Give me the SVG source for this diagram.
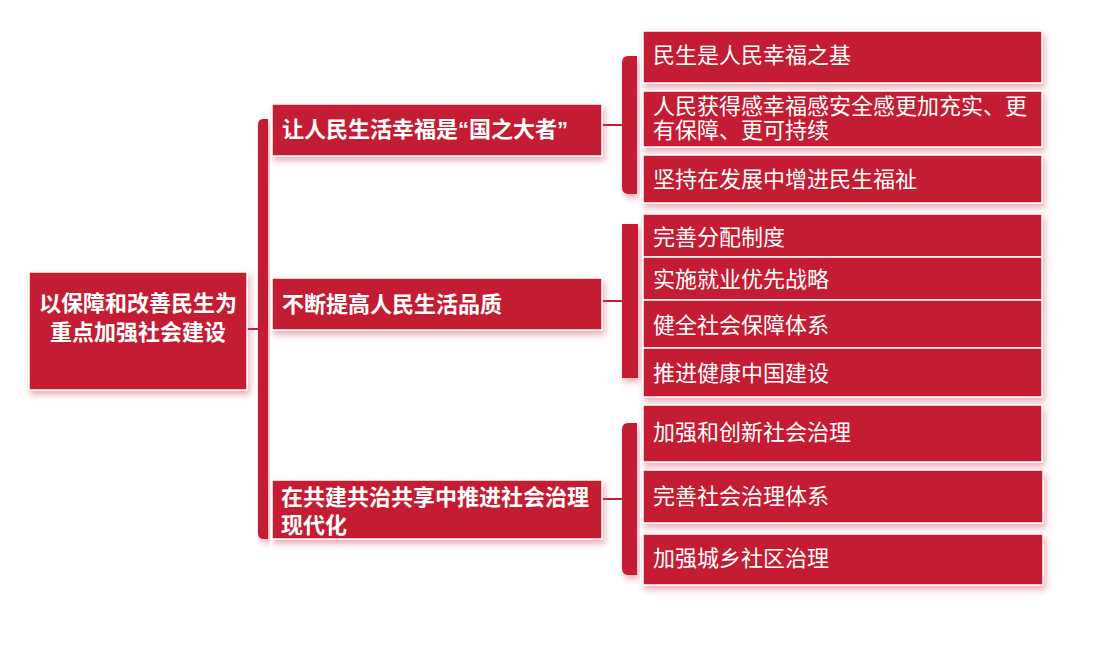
<svg xmlns="http://www.w3.org/2000/svg" width="1096" height="646" viewBox="0 0 1096 646">
<defs>
<filter id="sh" x="-10%" y="-20%" width="130%" height="160%">
<feDropShadow dx="2" dy="4" stdDeviation="3" flood-color="#d8475c" flood-opacity="0.45"/>
</filter>
<style>
.box{fill:#C41C31;stroke:#ffffff;stroke-width:1.5;filter:url(#sh)}
.br{fill:#C41C31;filter:url(#sh)}
.ln{stroke:#C41C31;stroke-width:2;fill:none}
.tb{font-family:"Noto Sans CJK SC","Noto Sans",sans-serif;font-size:22px;font-weight:bold;fill:#ffffff}
.tn{font-family:"Noto Sans CJK SC","Noto Sans",sans-serif;font-size:22px;fill:#ffffff}
.q{font-family:"Liberation Sans",sans-serif}
</style>
</defs>
<rect width="1096" height="646" fill="#ffffff"/>
<g id="connectors">
<line class="ln" x1="246" y1="329" x2="259" y2="329"/>
<path class="br" d="M268 119 L263 119 Q258 119 258 125 L258 533 Q258 539 264 539 L268 539 Z"/>
<line class="ln" x1="602" y1="125" x2="623" y2="125"/>
<path class="br" d="M637 56 L628 56 Q622 56 622 63 L622 187 Q622 194 628 194 L637 194 Z"/>
<line class="ln" x1="602" y1="301" x2="623" y2="301"/>
<rect class="br" x="622" y="224" width="16" height="154"/>
<line class="ln" x1="602" y1="499" x2="623" y2="499"/>
<path class="br" d="M637 423 L628 423 Q622 423 622 430 L622 568 Q622 575 628 575 L637 575 Z"/>
</g>
<g id="root">
<rect class="box" x="29" y="272" width="218" height="118" stroke="none"/>
<text class="tb" text-anchor="middle"><tspan x="138" y="311">以保障和改善民生为</tspan><tspan x="138" y="340">重点加强社会建设</tspan></text>
</g>
<g id="n1">
<rect class="box" x="272" y="104" width="330" height="52"/>
<text class="tb" x="282" y="137">让人民生活幸福是<tspan class="q">“</tspan>国之大者<tspan class="q">”</tspan></text>
</g>
<g id="n2">
<rect class="box" x="272" y="278" width="330" height="52"/>
<text class="tb" x="282" y="312">不断提高人民生活品质</text>
</g>
<g id="n3">
<rect class="box" x="272" y="480" width="330" height="59"/>
<text class="tb"><tspan x="281" y="505">在共建共治共享中推进社会治理</tspan><tspan x="281" y="533">现代化</tspan></text>
</g>
<g id="n1a">
<rect class="box" x="643" y="31" width="399" height="52"/>
<text class="tn" x="653" y="63">民生是人民幸福之基</text>
</g>
<g id="n1b">
<rect class="box" x="643" y="91" width="399" height="56"/>
<text class="tn"><tspan x="653" y="114">人民获得感幸福感安全感更加充实、更</tspan><tspan x="653" y="138">有保障、更可持续</tspan></text>
</g>
<g id="n1c">
<rect class="box" x="643" y="155" width="399" height="48"/>
<text class="tn" x="653" y="187">坚持在发展中增进民生福祉</text>
</g>
<g id="n2a">
<rect class="box" x="643" y="214" width="399" height="43"/>
<text class="tn" x="653" y="245">完善分配制度</text>
</g>
<g id="n2b">
<rect class="box" x="643" y="257" width="399" height="43"/>
<text class="tn" x="653" y="287">实施就业优先战略</text>
</g>
<g id="n2c">
<rect class="box" x="643" y="300" width="399" height="48"/>
<text class="tn" x="653" y="333">健全社会保障体系</text>
</g>
<g id="n2d">
<rect class="box" x="643" y="348" width="399" height="49"/>
<text class="tn" x="653" y="381">推进健康中国建设</text>
</g>
<g id="n3a">
<rect class="box" x="643" y="405" width="399" height="57"/>
<text class="tn" x="653" y="440">加强和创新社会治理</text>
</g>
<g id="n3b">
<rect class="box" x="643" y="470" width="400" height="53"/>
<text class="tn" x="653" y="504">完善社会治理体系</text>
</g>
<g id="n3c">
<rect class="box" x="643" y="534" width="400" height="51"/>
<text class="tn" x="653" y="566">加强城乡社区治理</text>
</g>
</svg>
